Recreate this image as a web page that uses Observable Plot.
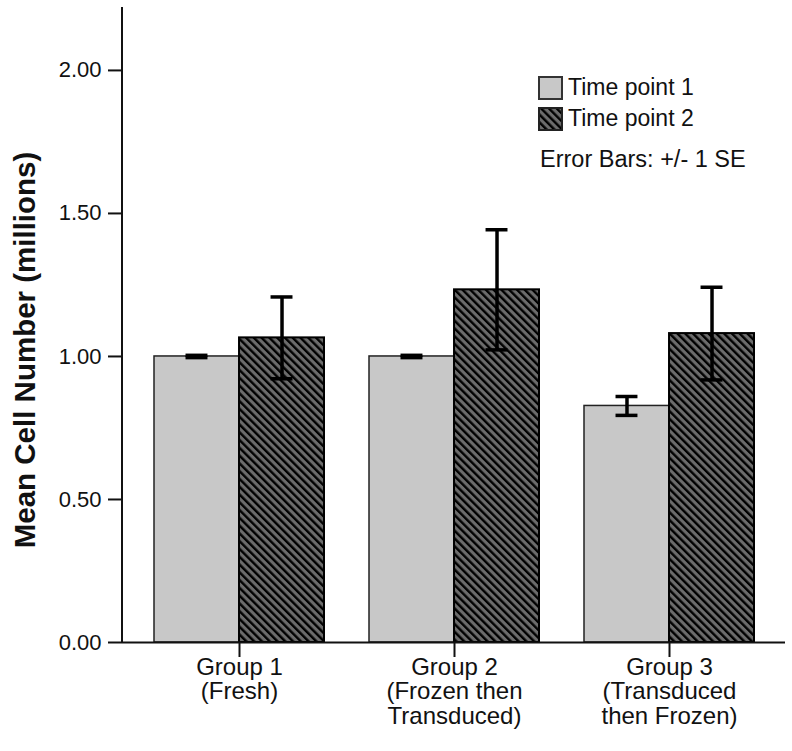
<!DOCTYPE html>
<html>
<head>
<meta charset="utf-8">
<script src="https://cdn.jsdelivr.net/npm/d3@7"></script>
<script src="https://cdn.jsdelivr.net/npm/@observablehq/plot@0.6"></script>
<style>
  html, body { margin: 0; padding: 0; background: #fff; }
  #wrap { position: relative; width: 792px; height: 751px; font-family: "Liberation Sans", Arial, sans-serif; color: #111; }
  #legend { position: absolute; left: 538px; top: 72px; font-size: 23px; }
  .row { display: flex; align-items: center; height: 31px; }
  .row svg { margin-right: 5px; }
  #eb { margin-top: 12px; margin-left: 2px; font-size: 23.5px; }
</style>
</head>
<body>
<div id="wrap">
  <div id="chart"></div>
  <div id="legend"></div>
</div>
<script>
const groups = ["Group 1\n(Fresh)", "Group 2\n(Frozen then\nTransduced)", "Group 3\n(Transduced\nthen Frozen)"];
const series = ["Time point 1", "Time point 2"];
const tp1Mean = [1.000, 1.000, 0.827];
const tp1SE = [0.004, 0.004, 0.033];
const tp2Mean = [1.065, 1.233, 1.080];
const tp2SE = [0.143, 0.210, 0.162];
const yTicks = [0, 0.5, 1.0, 1.5, 2.0];
const yLabel = "Mean Cell Number (millions)";
const errorNote = "Error Bars: +/- 1 SE";

const tp1 = groups.map((g, i) => ({group: g, series: series[0], mean: tp1Mean[i], low: tp1Mean[i] - tp1SE[i], high: tp1Mean[i] + tp1SE[i]}));
const tp2 = groups.map((g, i) => ({group: g, series: series[1], mean: tp2Mean[i], low: tp2Mean[i] - tp2SE[i], high: tp2Mean[i] + tp2SE[i]}));

const W = 792, H = 751, mL = 122, mR = 7, mT = 7, mB = 109;
const pIn = 0.21, pOut = 0.145;
const xOpts = {domain: groups, paddingInner: pIn, paddingOuter: pOut};
const step = (W - mR - mL) / (groups.length - pIn + 2 * pOut);
const bandwidth = step * (1 - pIn);
const half = bandwidth / 2;
const capInset = (half - 22) / 2;

const plot = Plot.plot({
  width: W, height: H,
  marginLeft: mL, marginRight: mR, marginTop: mT, marginBottom: mB,
  style: {fontFamily: "'Liberation Sans', Arial, sans-serif", color: "#111", background: "#fff"},
  x: {...xOpts, label: null},
  y: {domain: [0, 2.22], label: null},
  color: {domain: series, range: ["#c8c8c8", "url(#hatch)"]},
  marks: [
    Plot.barY(tp1, {x: "group", y: "mean", fill: "series", stroke: "#222", strokeWidth: 1.5, insetRight: half}),
    Plot.barY(tp2, {x: "group", y: "mean", fill: "series", stroke: "#000", strokeWidth: 2, insetLeft: half}),
    Plot.ruleX(tp1, {x: "group", y1: "low", y2: "high", dx: -half / 2, stroke: "#000", strokeWidth: 3.5}),
    Plot.ruleX(tp2, {x: "group", y1: "low", y2: "high", dx: half / 2, stroke: "#000", strokeWidth: 3.5}),
    Plot.tickY(tp1, {x: "group", y: "low", stroke: "#000", strokeWidth: 3.5, insetLeft: capInset, insetRight: half + capInset}),
    Plot.tickY(tp1, {x: "group", y: "high", stroke: "#000", strokeWidth: 3.5, insetLeft: capInset, insetRight: half + capInset}),
    Plot.tickY(tp2, {x: "group", y: "low", stroke: "#000", strokeWidth: 3.5, insetLeft: half + capInset, insetRight: capInset}),
    Plot.tickY(tp2, {x: "group", y: "high", stroke: "#000", strokeWidth: 3.5, insetLeft: half + capInset, insetRight: capInset}),
    Plot.ruleY([0], {stroke: "#111", strokeWidth: 2}),
    Plot.axisY({ticks: yTicks, tickFormat: d3.format(".2f"), tickSize: 14, tickPadding: 7, fontSize: 22, strokeWidth: 2, label: null}),
    Plot.axisX({tickSize: 15, tickPadding: 0, fontSize: 24, lineHeight: 1.02, fontFamily: "'Liberation Sans Narrow', 'Liberation Sans', Arial", strokeWidth: 2, label: null})
  ]
});

// hatch pattern definition, left axis line and y-axis title
const svg = d3.select(plot);
const defs = svg.insert("defs", ":first-child");
const pat = defs.append("pattern").attr("id", "hatch").attr("patternUnits", "userSpaceOnUse")
  .attr("width", 5.5).attr("height", 5.5).attr("patternTransform", "rotate(-45)");
pat.append("rect").attr("width", 5.5).attr("height", 5.5).attr("fill", "#6c6c6c");
pat.append("line").attr("x1", 1.2).attr("x2", 1.2).attr("y1", 0).attr("y2", 5.5).attr("stroke", "#000").attr("stroke-width", 2.4);
svg.append("line").attr("x1", mL).attr("x2", mL).attr("y1", mT).attr("y2", H - mB + 1)
  .attr("stroke", "#111").attr("stroke-width", 2);
svg.append("text").attr("transform", `translate(35,350) rotate(-90)`)
  .attr("text-anchor", "middle").attr("font-weight", "bold").attr("font-size", 29.5)
  .attr("fill", "#111").text(yLabel);

document.getElementById("chart").appendChild(plot);

const sw = (s) => s === series[0]
  ? `<svg width="25" height="24"><rect x="1" y="1" width="23" height="22" fill="#c8c8c8" stroke="#333" stroke-width="2"/></svg>`
  : `<svg width="25" height="24"><defs><pattern id="hatchL" patternUnits="userSpaceOnUse" width="5.5" height="5.5" patternTransform="rotate(-45)"><rect width="5.5" height="5.5" fill="#6c6c6c"/><line x1="1.2" x2="1.2" y1="0" y2="5.5" stroke="#000" stroke-width="2.4"/></pattern></defs><rect x="1" y="1" width="23" height="22" fill="url(#hatchL)" stroke="#222" stroke-width="2"/></svg>`;
document.getElementById("legend").innerHTML =
  series.map(s => `<div class="row">${sw(s)}<span>${s}</span></div>`).join("") +
  `<div id="eb">${errorNote}</div>`;
</script>
</body>
</html>
